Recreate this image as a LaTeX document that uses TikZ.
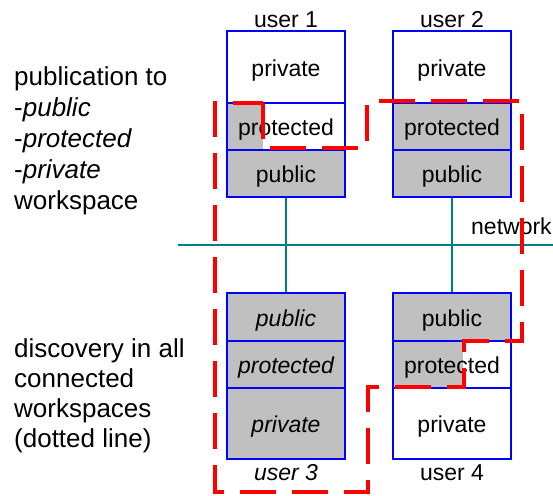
\documentclass[tikz,border=0pt]{standalone}
\usepackage{fontspec}
\setmainfont{Liberation Sans}
\definecolor{boxblue}{RGB}{0,0,255}
\definecolor{netteal}{RGB}{0,128,128}
\definecolor{cellgray}{RGB}{192,192,192}
\definecolor{dashred}{RGB}{255,0,0}
\begin{document}
\begin{tikzpicture}[x=1pt,y=-1pt,
  cell/.style={draw=boxblue, line width=1.8pt, inner sep=0pt, text height=20pt, text depth=2pt, font=\fontsize{23}{27}\selectfont},
  cellw/.style={cell, minimum width=118pt},
  userlabel/.style={anchor=base, font=\fontsize{23}{27}\selectfont},
  lefttext/.style={anchor=base west, inner sep=0pt, font=\fontsize{26}{31}\selectfont},
  net/.style={draw=netteal, line width=1.8pt},
  userscope/.style={draw=dashred, line width=4pt, dash pattern=on 36pt off 16pt}]
\useasboundingbox (0,0) rectangle (553,495);

% gray fills
\fill[cellgray] (227,103) rectangle (263,150);
\fill[cellgray] (227,150) rectangle (345,197);
\fill[cellgray] (393,103) rectangle (511,197);
\fill[cellgray] (227,293) rectangle (345,459);
\fill[cellgray] (393,293) rectangle (511,341);
\fill[cellgray] (393,341) rectangle (463,388);

% network
\coordinate (netL) at (178,245);
\coordinate (netR) at (553,245);
\draw[net] (netL) -- (netR);
\node[anchor=base west, inner sep=0pt, font=\fontsize{23}{27}\selectfont] (netlabel) at (471,234) {network};

% user 1
\node[cellw, minimum height=72pt] (u1priv) at (286,67) {private};
\node[cellw, minimum height=47pt] (u1prot) at (286,126.5) {protected};
\node[cellw, minimum height=47pt] (u1pub) at (286,173.5) {public};
\node[userlabel] (u1) at (286,28) {user 1};

% user 2
\node[cellw, minimum height=72pt] (u2priv) at (452,67) {private};
\node[cellw, minimum height=47pt] (u2prot) at (452,126.5) {protected};
\node[cellw, minimum height=47pt] (u2pub) at (452,173.5) {public};
\node[userlabel] (u2) at (452,28) {user 2};

% user 3
\node[cellw, minimum height=48pt] (u3pub) at (286,317) {\itshape public};
\node[cellw, minimum height=47pt] (u3prot) at (286,364.5) {\itshape protected};
\node[cellw, minimum height=71pt] (u3priv) at (286,423.5) {\itshape private};
\node[userlabel] (u3) at (286,480) {\itshape user 3};

% user 4
\node[cellw, minimum height=48pt] (u4pub) at (452,317) {public};
\node[cellw, minimum height=47pt] (u4prot) at (452,364.5) {protected};
\node[cellw, minimum height=71pt] (u4priv) at (452,423.5) {private};
\node[userlabel] (u4) at (452,480) {user 4};

% connectors
\draw[net] (u1pub.south) -- (u3pub.north);
\draw[net] (u2pub.south) -- (u4pub.north);

% dashed scope (user 3 view)
\coordinate (r1) at (215,103);
\coordinate (r2) at (263,103);
\coordinate (r3) at (263,148);
\coordinate (r4) at (367,148);
\coordinate (r5) at (367,101);
\coordinate (r6) at (522,101);
\coordinate (r7) at (522,341);
\coordinate (r8) at (464,341);
\coordinate (r9) at (464,387);
\coordinate (r10) at (368,387);
\coordinate (r11) at (368,492);
\coordinate (r12) at (215,492);
\draw[userscope] (r2) -- (r3) -- (r4) -- (r5) -- (r6) -- (r7) -- (r8) -- (r9) -- (r10) -- (r11) -- (r12) -- (r1) -- cycle;

% left texts
\node[lefttext] (t1) at (14,85) {publication to};
\node[lefttext] (t2) at (14,116) {-\textit{public}};
\node[lefttext] (t3) at (14,147) {-\textit{protected}};
\node[lefttext] (t4) at (14,178) {-\textit{private}};
\node[lefttext] (t5) at (14,209) {workspace};
\node[lefttext] (d1) at (14,357) {discovery in all};
\node[lefttext] (d2) at (14,387) {connected};
\node[lefttext] (d3) at (14,417) {workspaces};
\node[lefttext] (d4) at (14,447) {(dotted line)};
\end{tikzpicture}
\end{document}
